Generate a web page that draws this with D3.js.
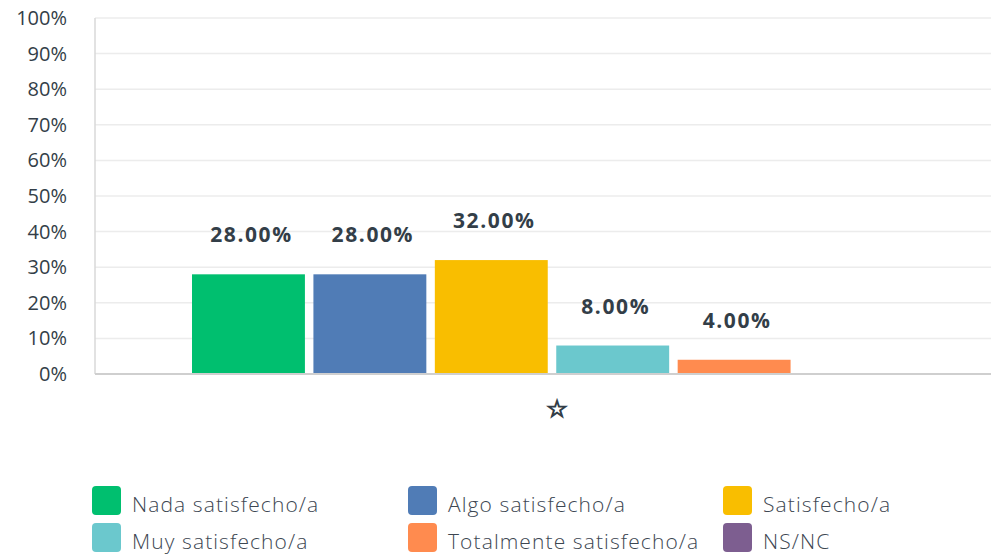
<!DOCTYPE html>
<html>
<head>
<meta charset="utf-8">
<script src="https://cdn.jsdelivr.net/npm/d3@7"></script>
<style>
  body { margin: 0; background: #fff; }
  svg { display: block; font-family: "Open Sans", Roboto, sans-serif; }
</style>
</head>
<body>
<div id="chart"></div>
<script>
// Chart data
const categories = ["☆"];
const seriesNames = ["Nada satisfecho/a", "Algo satisfecho/a", "Satisfecho/a",
                     "Muy satisfecho/a", "Totalmente satisfecho/a", "NS/NC"];
const seriesValues = [28, 28, 32, 8, 4, 0];
const seriesColors = ["#00bf6f", "#507cb6", "#f9be00", "#6bc8cd", "#ff8b4f", "#7d5e90"];
const yTicks = [0, 10, 20, 30, 40, 50, 60, 70, 80, 90, 100];

const width = 991, height = 555;
const margin = {top: 18, right: 0, bottom: 181, left: 95};
const innerW = width - margin.left - margin.right;
const innerH = height - margin.top - margin.bottom;

const svg = d3.select("#chart").append("svg")
    .attr("width", width)
    .attr("height", height);

const g = svg.append("g")
    .attr("transform", `translate(${margin.left},${margin.top})`);

const y = d3.scaleLinear().domain([0, 100]).range([innerH, 0]);

// Category band, then series sub-bands inside it
const x0 = d3.scaleBand().domain(categories).range([0, innerW]);
const x1 = d3.scaleBand()
    .domain(seriesNames)
    .range([97, 817])
    .paddingInner(0.07);

// Gridlines
g.append("g")
    .selectAll("line")
    .data(yTicks.filter(d => d > 0))
    .enter().append("line")
    .attr("x1", 0)
    .attr("x2", innerW)
    .attr("y1", d => y(d))
    .attr("y2", d => y(d))
    .attr("stroke", "#ececec")
    .attr("stroke-width", 1.5);

// Left axis line
g.append("line")
    .attr("x1", 0).attr("x2", 0)
    .attr("y1", 0).attr("y2", innerH)
    .attr("stroke", "#d9d9d9")
    .attr("stroke-width", 1.5);

// Y axis labels
const yAxis = g.append("g")
    .call(d3.axisLeft(y).tickValues(yTicks).tickFormat(d => d + "%").tickSize(0).tickPadding(28));
yAxis.select(".domain").remove();
yAxis.selectAll("text")
    .attr("font-size", 20)
    .attr("fill", "#333e48")
    .style("font-family", "'Open Sans', sans-serif");

// Bars
const cat = g.append("g")
    .attr("transform", `translate(${x0(categories[0])},0)`);

cat.selectAll("rect")
    .data(seriesValues)
    .enter().append("rect")
    .attr("x", (d, i) => x1(seriesNames[i]))
    .attr("y", d => y(d))
    .attr("width", x1.bandwidth())
    .attr("height", d => innerH - y(d))
    .attr("fill", (d, i) => seriesColors[i]);

// Value labels
cat.selectAll("text.value")
    .data(seriesValues.map((v, i) => ({v, name: seriesNames[i]})).filter(d => d.v > 0))
    .enter().append("text")
    .attr("class", "value")
    .attr("x", d => x1(d.name) + x1.bandwidth() / 2 + 3)
    .attr("y", d => y(d.v) - 32)
    .attr("text-anchor", "middle")
    .attr("font-size", 21)
    .attr("font-weight", 700)
    .attr("letter-spacing", 1.6)
    .attr("fill", "#333e48")
    .text(d => d.v.toFixed(2) + "%");

// Bottom axis line
g.append("line")
    .attr("x1", 0).attr("x2", innerW)
    .attr("y1", innerH).attr("y2", innerH)
    .attr("stroke", "#cfcfcf")
    .attr("stroke-width", 2);

// Category label (star)
g.append("text")
    .attr("x", x1.range()[0] + (x1.range()[1] - x1.range()[0]) / 2 + 5)
    .attr("y", innerH + 43)
    .attr("text-anchor", "middle")
    .attr("font-size", 24)
    .attr("fill", "#333e48")
    .attr("stroke", "#333e48")
    .attr("stroke-width", 1.2)
    .style("font-family", "DejaVu Sans, sans-serif")
    .text(categories[0]);

// Legend
const legendCols = [92, 408, 723];
const legendRows = [486, 523];
const legend = svg.append("g")
    .selectAll("g")
    .data(seriesNames)
    .enter().append("g")
    .attr("transform", (d, i) => `translate(${legendCols[i % 3]},${legendRows[Math.floor(i / 3)]})`);

legend.append("rect")
    .attr("width", 29)
    .attr("height", 29)
    .attr("rx", 4)
    .attr("fill", (d, i) => seriesColors[i]);

legend.append("text")
    .attr("x", 40)
    .attr("y", 26)
    .attr("font-size", 21)
    .attr("font-weight", 300)
    .attr("letter-spacing", 1.1)
    .attr("fill", "#3d4752")
    .text(d => d);
</script>
</body>
</html>
